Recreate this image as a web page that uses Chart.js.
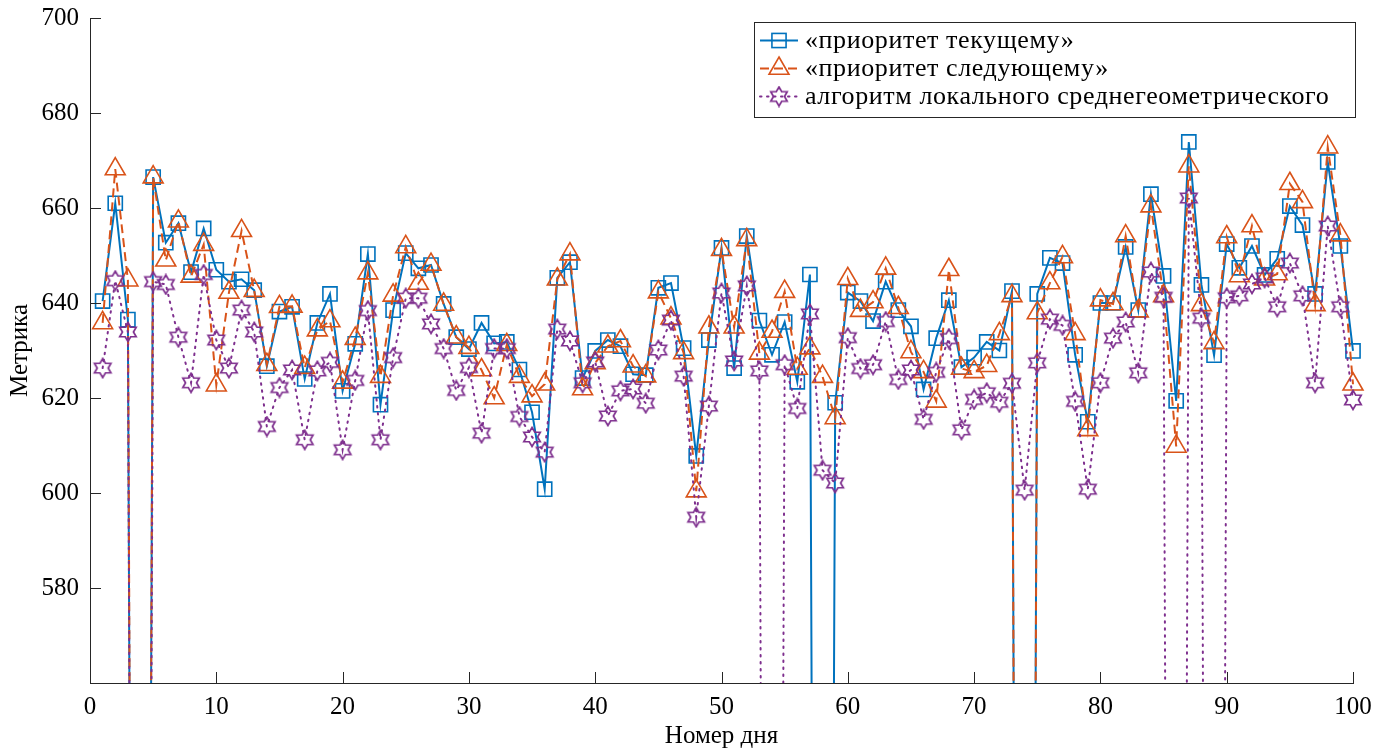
<!DOCTYPE html>
<html>
<head>
<meta charset="utf-8">
<script src="https://cdn.jsdelivr.net/npm/chart.js@4"></script>
<style>
  html, body { margin: 0; padding: 0; background: #fff; }
  canvas { display: block; }
</style>
</head>
<body>
<canvas id="metricChart" width="1389" height="751" style="width:1389px;height:751px"></canvas>
<script>
// дни 1..100; 0 = значение далеко ниже оси (линия уходит вниз)
const days = Array.from({ length: 100 }, (_, i) => i + 1);

const currentPriority = [
  640.4, 661.0, 636.5, 0, 666.5, 652.7, 656.8, 646.5, 655.7, 647.0,
  644.5, 645.0, 642.7, 626.7, 638.2, 639.2, 624.0, 635.8, 641.9, 621.5,
  631.4, 650.3, 618.6, 638.5, 650.5, 647.3, 648.0, 639.8, 632.8, 630.3,
  635.8, 631.5, 631.8, 626.0, 617.0, 600.8, 645.3, 648.6, 624.2, 629.9,
  632.2, 630.9, 625.0, 624.8, 643.2, 644.2, 630.5, 607.8, 632.2, 651.6,
  626.3, 654.1, 636.3, 629.1, 636.0, 623.4, 646.0, 0, 619.0, 642.2,
  640.4, 636.2, 644.5, 638.5, 635.1, 621.8, 632.6, 640.6, 626.5, 628.5,
  631.8, 630.0, 642.5, 0, 641.9, 649.5, 648.4, 629.1, 615.0, 640.0,
  640.0, 651.8, 638.5, 662.9, 645.7, 619.4, 673.9, 643.8, 629.0, 652.4,
  647.4, 652.0, 645.9, 649.3, 660.4, 656.4, 641.9, 669.7, 652.0, 629.9
];

const nextPriority = [
  635.8, 668.2, 644.8, 0, 666.5, 649.0, 657.2, 645.6, 652.3, 622.7,
  642.2, 655.2, 642.6, 627.0, 639.2, 639.3, 626.4, 634.3, 636.2, 623.3,
  632.5, 646.3, 624.5, 641.6, 651.8, 644.1, 648.1, 639.7, 632.8, 630.6,
  625.9, 620.0, 631.2, 624.5, 620.4, 622.9, 645.0, 650.3, 621.9, 627.4,
  630.9, 632.0, 626.7, 624.6, 642.3, 636.8, 629.5, 600.4, 634.9, 651.2,
  634.9, 653.3, 629.4, 634.0, 642.4, 626.2, 630.5, 624.5, 615.8, 645.1,
  638.4, 640.2, 647.3, 639.0, 629.7, 625.5, 619.3, 647.0, 626.2, 625.5,
  626.8, 633.5, 641.5, 0, 637.9, 644.2, 649.7, 633.5, 613.3, 640.6,
  639.8, 654.1, 638.3, 660.4, 641.5, 609.8, 668.8, 639.6, 631.6, 653.9,
  645.7, 656.2, 645.0, 646.1, 665.1, 661.3, 639.6, 672.8, 654.3, 622.9
];

const geoMeanLocal = [
  626.3, 644.7, 633.9, 0, 644.5, 643.9, 632.8, 623.2, 646.0, 632.2,
  626.3, 638.5, 633.9, 614.0, 622.2, 625.9, 611.2, 625.7, 627.5, 609.1,
  623.7, 638.4, 611.2, 628.5, 641.0, 641.0, 635.6, 630.4, 621.6, 626.4,
  612.6, 630.4, 630.4, 616.1, 611.8, 608.6, 634.5, 632.0, 623.2, 627.6,
  616.2, 621.5, 621.9, 618.9, 630.1, 636.4, 624.6, 594.9, 618.3, 642.1,
  627.8, 643.6, 625.7, 0, 627.0, 617.8, 637.7, 604.8, 602.1, 632.7,
  626.2, 627.0, 636.1, 623.9, 625.9, 615.5, 625.4, 632.5, 613.3, 619.7,
  621.1, 619.1, 623.1, 600.6, 627.4, 636.6, 635.3, 619.3, 600.8, 623.2,
  632.6, 636.0, 625.3, 646.5, 641.2, 0, 662.1, 636.8, 0, 641.1,
  641.5, 644.0, 645.3, 639.2, 648.4, 641.5, 623.2, 656.2, 639.2, 619.6
];

const seriesLabels = [
  "«приоритет текущему»",
  "«приоритет следующему»",
  "алгоритм локального среднегеометрического"
];

const xTicks = [0, 10, 20, 30, 40, 50, 60, 70, 80, 90, 100];
const yTicks = [580, 600, 620, 640, 660, 680, 700];

const BLUE = "#0072BD";
const ORANGE = "#D95319";
const PURPLE = "#7E2F8E";
const AXIS = "#262626";
const SERIF = "'Liberation Serif', 'DejaVu Serif', serif";

// шестиконечная звезда для третьей серии
function makeHexagram(color) {
  const c = document.createElement("canvas");
  c.width = 22;
  c.height = 22;
  const g = c.getContext("2d");
  const R = 9.5, r = R / Math.sqrt(3);
  g.beginPath();
  for (let k = 0; k < 12; k++) {
    const a = -Math.PI / 2 + k * Math.PI / 6;
    const rr = k % 2 === 0 ? R : r;
    const px = 11 + rr * Math.cos(a), py = 11 + rr * Math.sin(a);
    if (k === 0) g.moveTo(px, py); else g.lineTo(px, py);
  }
  g.closePath();
  g.strokeStyle = color;
  g.lineWidth = 1.7;
  g.stroke();
  return c;
}
const hexagram = makeHexagram(PURPLE);

const toPoints = (vals) => days.map((d, i) => ({ x: d, y: vals[i] }));
// маркеры у краёв не обрезаем, а провалы вниз обрезаем по оси
const markClip = { left: 20, right: 20, top: 20, bottom: 0 };

// внутренние засечки и легенда
const matlabLook = {
  id: "matlabLook",
  afterDraw(chart) {
    const { ctx, chartArea: a, scales: { x, y } } = chart;
    ctx.save();
    ctx.strokeStyle = AXIS;
    ctx.lineWidth = 1;
    const tl = 11;
    yTicks.forEach(v => {
      const py = Math.round(y.getPixelForValue(v)) + 0.5;
      ctx.beginPath(); ctx.moveTo(a.left, py); ctx.lineTo(a.left + tl, py); ctx.stroke();
    });
    xTicks.forEach(v => {
      const px = Math.round(x.getPixelForValue(v)) + 0.5;
      ctx.beginPath(); ctx.moveTo(px, a.bottom); ctx.lineTo(px, a.bottom - tl); ctx.stroke();
    });

    // легенда
    const bx = 754.5, by = 22.5, bw = 601, bh = 95;
    ctx.fillStyle = "#fff";
    ctx.fillRect(bx, by, bw, bh);
    ctx.strokeStyle = AXIS;
    ctx.strokeRect(bx, by, bw, bh);
    const rows = [40, 68, 96];
    chart.data.datasets.forEach((ds, i) => {
      const ry = by + rows[i] - 22;
      ctx.save();
      ctx.strokeStyle = ds.borderColor;
      ctx.lineWidth = ds.borderWidth;
      ctx.setLineDash(ds.borderDash || []);
      ctx.lineCap = ds.borderCapStyle || "butt";
      ctx.beginPath(); ctx.moveTo(760, ry); ctx.lineTo(798, ry); ctx.stroke();
      ctx.restore();
      const mx = 779;
      ctx.save();
      ctx.strokeStyle = ds.borderColor;
      ctx.lineWidth = ds.pointBorderWidth;
      if (ds.pointStyle === "rect") {
        const s = ds.pointRadius * Math.SQRT1_2;
        ctx.strokeRect(mx - s, ry - s, 2 * s, 2 * s);
      } else if (ds.pointStyle === "triangle") {
        const rr = ds.pointRadius;
        ctx.beginPath();
        ctx.moveTo(mx, ry - rr);
        ctx.lineTo(mx + rr * Math.sin(2 * Math.PI / 3), ry - rr * Math.cos(2 * Math.PI / 3));
        ctx.lineTo(mx + rr * Math.sin(4 * Math.PI / 3), ry - rr * Math.cos(4 * Math.PI / 3));
        ctx.closePath();
        ctx.stroke();
      } else {
        ctx.drawImage(hexagram, mx - 11, ry - 11);
      }
      ctx.restore();
      ctx.fillStyle = "#000";
      ctx.font = "26px " + SERIF;
      ctx.letterSpacing = "0.6px";
      ctx.textBaseline = "middle";
      ctx.fillText(ds.label, 805, ry + 1);
    });
    ctx.restore();
  }
};

const ctx = document.getElementById("metricChart").getContext("2d");
new Chart(ctx, {
  type: "line",
  data: {
    datasets: [
      {
        label: seriesLabels[0],
        data: toPoints(currentPriority),
        borderColor: BLUE,
        borderWidth: 2,
        backgroundColor: "rgba(0,0,0,0)",
        pointStyle: "rect",
        pointRadius: 10,
        pointBorderWidth: 1.6,
        pointBackgroundColor: "rgba(0,0,0,0)",
        pointBorderColor: BLUE,
        clip: markClip,
        order: 2
      },
      {
        label: seriesLabels[1],
        data: toPoints(nextPriority),
        borderColor: ORANGE,
        borderWidth: 2,
        borderDash: [9, 5],
        backgroundColor: "rgba(0,0,0,0)",
        pointStyle: "triangle",
        pointRadius: 11.5,
        pointBorderWidth: 1.6,
        pointBackgroundColor: "rgba(0,0,0,0)",
        pointBorderColor: ORANGE,
        clip: markClip,
        order: 1
      },
      {
        label: seriesLabels[2],
        data: toPoints(geoMeanLocal),
        borderColor: PURPLE,
        borderWidth: 2,
        borderDash: [1.5, 5.5],
        borderCapStyle: "round",
        backgroundColor: "rgba(0,0,0,0)",
        pointStyle: hexagram,
        pointRadius: 10,
        pointBorderWidth: 1.6,
        clip: markClip,
        order: 0
      }
    ]
  },
  options: {
    responsive: false,
    animation: false,
    layout: { padding: { top: 18, right: 36, left: 0, bottom: 0 } },
    plugins: {
      legend: { display: false },
      tooltip: { enabled: false }
    },
    elements: { line: { tension: 0 } },
    scales: {
      x: {
        type: "linear",
        min: 0,
        max: 100,
        afterBuildTicks: (s) => { s.ticks = xTicks.map(v => ({ value: v })); },
        afterFit: (s) => { s.height = 68; s.paddingLeft = 0; s.paddingRight = 0; },
        grid: { display: false, drawTicks: false },
        border: { display: true, color: AXIS, width: 1 },
        ticks: {
          color: "#000",
          padding: 9,
          maxRotation: 0,
          font: { family: SERIF, size: 25 }
        },
        title: {
          display: true,
          text: "Номер дня",
          color: "#000",
          padding: { top: 0, bottom: 0 },
          font: { family: SERIF, size: 25 }
        }
      },
      y: {
        min: 560,
        max: 700,
        afterBuildTicks: (s) => { s.ticks = yTicks.map(v => ({ value: v })); },
        afterFit: (s) => { s.width = 90; s.paddingTop = 0; s.paddingBottom = 0; },
        grid: { display: false, drawTicks: false },
        border: { display: true, color: AXIS, width: 1 },
        ticks: {
          color: "#000",
          padding: 11,
          font: { family: SERIF, size: 25 }
        },
        title: {
          display: true,
          text: "Метрика",
          color: "#000",
          padding: { top: 5, bottom: 0 },
          font: { family: SERIF, size: 25 }
        }
      }
    }
  },
  plugins: [matlabLook]
});
</script>
</body>
</html>
